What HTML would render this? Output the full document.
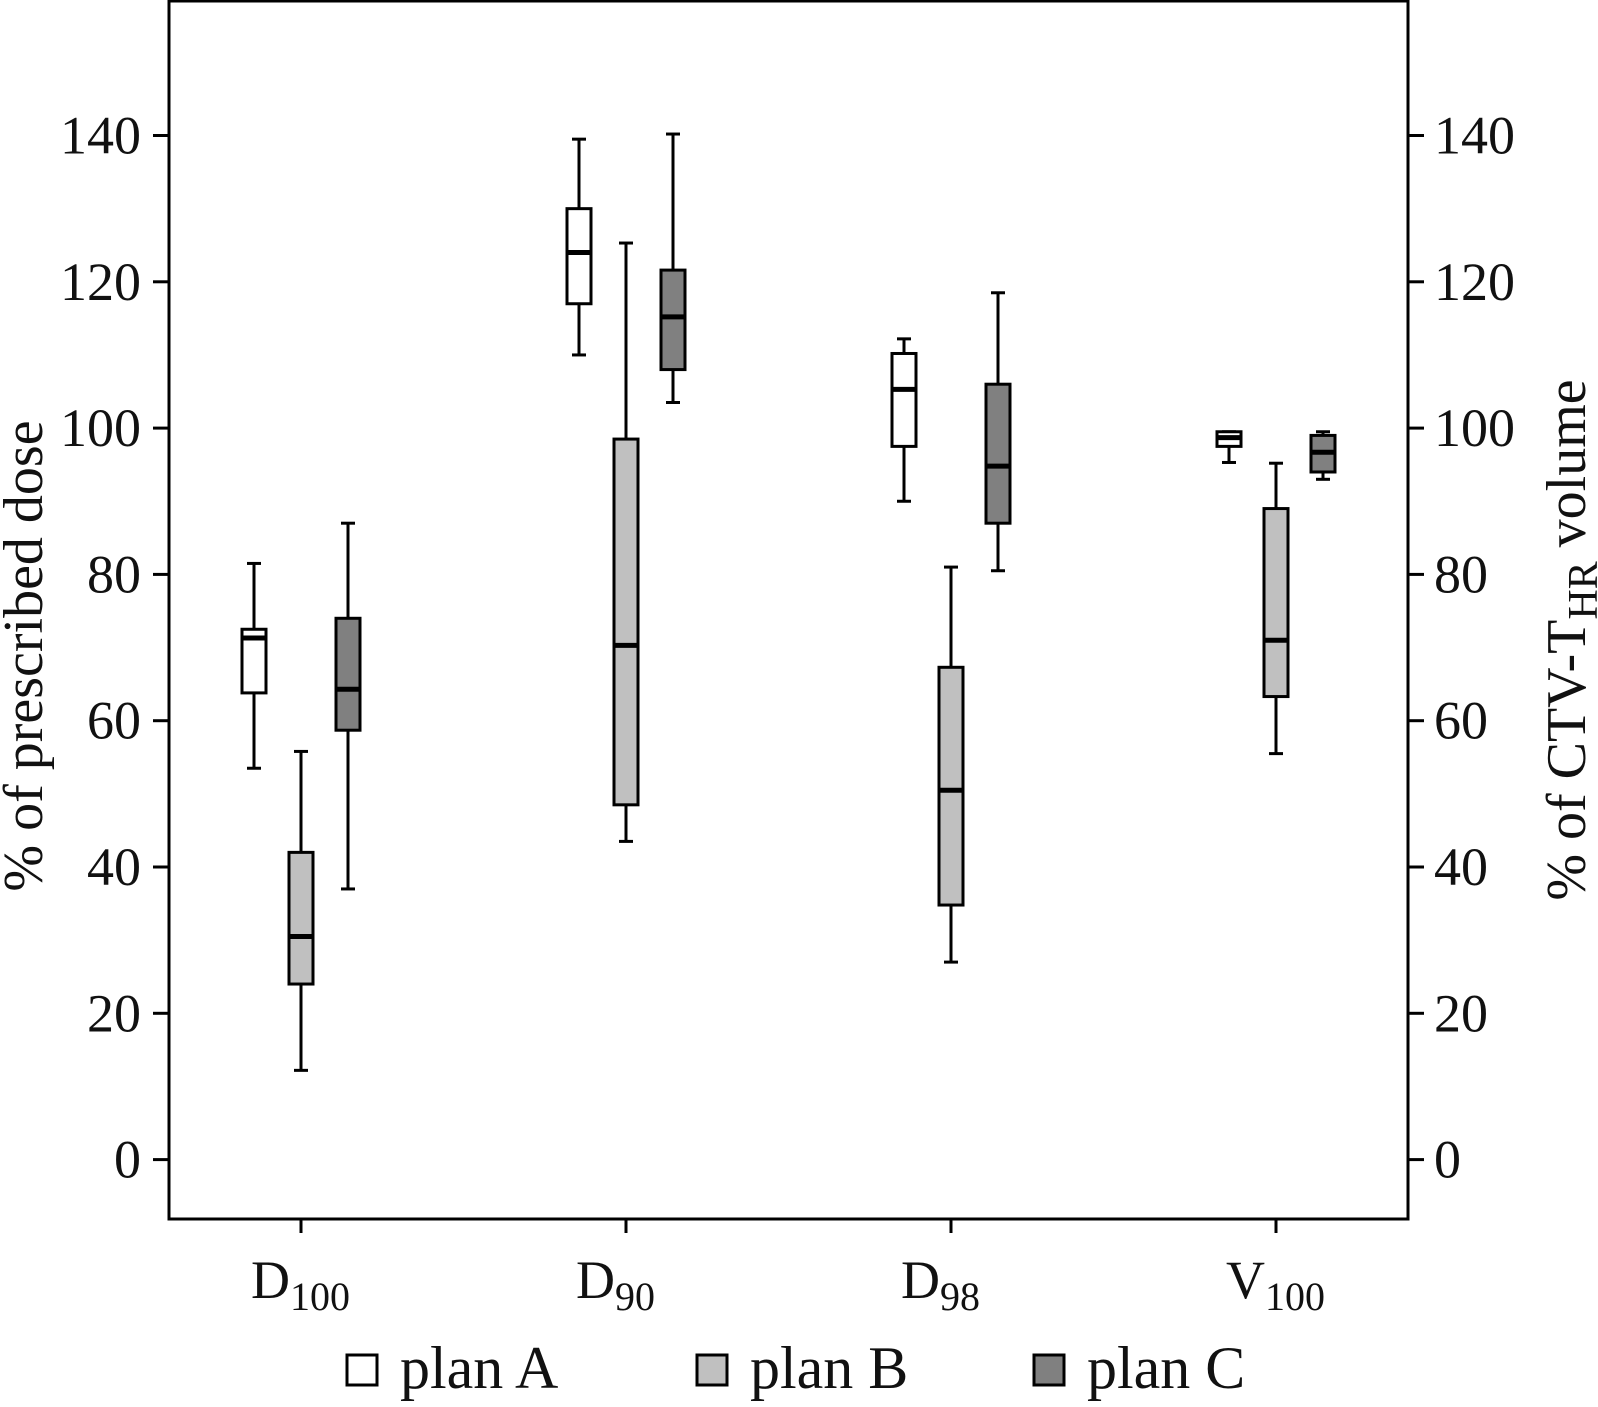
<!DOCTYPE html>
<html><head><meta charset="utf-8"><style>
body{margin:0;background:#fff}
svg text{font-family:"Liberation Serif",serif;fill:#111}
</style></head><body>
<svg width="1598" height="1402" xmlns="http://www.w3.org/2000/svg">
<g id="plot"></g>
</svg>
<script>
const categories=["D","D","D","V"];
const subs=["100","90","98","100"];
const planA=[[53.5,63.8,71.3,72.5,81.5],[110,117,124,130,139.5],[90,97.5,105.3,110.2,112.2],[95.3,97.5,98.7,99.5,99.5]];
const planB=[[12.2,24,30.5,42,55.8],[43.5,48.5,70.3,98.5,125.3],[27,34.8,50.5,67.3,81],[55.5,63.3,71,89,95.2]];
const planC=[[37,58.7,64.3,74,87],[103.5,108,115.2,121.6,140.2],[80.5,87,94.8,106,118.5],[93,94,96.7,99,99.5]];
const yTicks=[0,20,40,60,80,100,120,140];
const plans=["plan A","plan B","plan C"];
const fills=["#ffffff","#c0c0c0","#808080"];
const NS="http://www.w3.org/2000/svg";
const g=document.getElementById('plot');
const L=169,R=1408,T=0,B=1219;
const y=v=>1159.6-v*7.315;
const xc=i=>301+i*325;
function el(t,a,p){const e=document.createElementNS(NS,t);for(const k in a)e.setAttribute(k,a[k]);(p||g).appendChild(e);return e;}
const frame=el('rect',{x:L,y:T+1,width:R-L,height:B-T-1,fill:'none',stroke:'#000','stroke-width':3});


yTicks.forEach(v=>{
  el('line',{x1:L-16,x2:L,y1:y(v),y2:y(v),stroke:'#000','stroke-width':3});
  el('line',{x1:R,x2:R+16,y1:y(v),y2:y(v),stroke:'#000','stroke-width':3});
  const t=el('text',{x:L-28,y:y(v)+18,'font-size':54,'text-anchor':'end'});t.textContent=v;
  
  
  const t2=el('text',{x:R+26,y:y(v)+18,'font-size':54});t2.textContent=v;
  
  
});
categories.forEach((c,i)=>{
  el('line',{x1:xc(i),x2:xc(i),y1:B,y2:B+14,stroke:'#000','stroke-width':3});
  const t=el('text',{x:xc(i)-50,y:1298,'font-size':54});
  
  
  t.textContent=c;
  const s=el('tspan',{dy:12,'font-size':40},t);s.textContent=subs[i];
});
[planA,planB,planC].forEach((series,p)=>{
  series.forEach((d,i)=>{
    const cx=xc(i)+(p-1)*47,w=24;
    const grp=el('g',{});
    
    
    el('line',{x1:cx,x2:cx,y1:y(d[0]),y2:y(d[4]),stroke:'#000','stroke-width':3},grp);
    el('line',{x1:cx-7,x2:cx+7,y1:y(d[0]),y2:y(d[0]),stroke:'#000','stroke-width':3},grp);
    el('line',{x1:cx-7,x2:cx+7,y1:y(d[4]),y2:y(d[4]),stroke:'#000','stroke-width':3},grp);
    el('rect',{x:cx-w/2,y:y(d[3]),width:w,height:y(d[1])-y(d[3]),fill:fills[p],stroke:'#000','stroke-width':3},grp);
    el('line',{x1:cx-w/2,x2:cx+w/2,y1:y(d[2]),y2:y(d[2]),stroke:'#000','stroke-width':5},grp);
  });
});
const lt=el('text',{transform:'translate(42,656) rotate(-90)','font-size':56,'text-anchor':'middle'});
lt.textContent='% of prescribed dose';


const rt=el('text',{transform:'translate(1585,640) rotate(-90)','font-size':56,'text-anchor':'middle'});


rt.textContent='% of CTV-T';
const rs=el('tspan',{dy:12,'font-size':42},rt);rs.textContent='HR';
const rs2=el('tspan',{dy:-12},rt);rs2.textContent=' volume';
const lx=[347,697,1034];
plans.forEach((p,i)=>{
  const lg=el('g',{});
  
  
  el('rect',{x:lx[i],y:1355,width:30,height:30,fill:fills[i],stroke:'#000','stroke-width':3},lg);
  const t=el('text',{x:lx[i]+53,y:1388,'font-size':60},lg);t.textContent=p;
});
</script>
</body></html>
